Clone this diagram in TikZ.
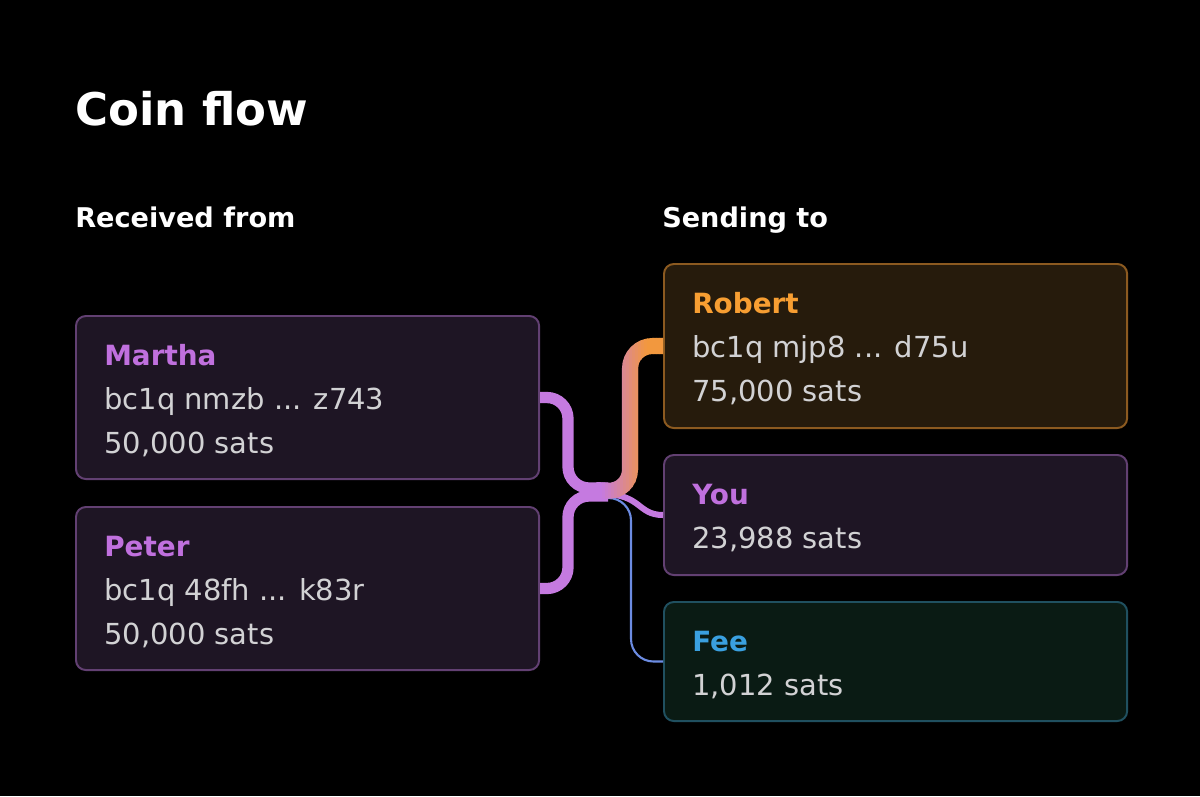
\documentclass[tikz,border=0pt]{standalone}
\usepackage{fontspec}
\setmainfont{DejaVu Sans}
\usetikzlibrary{positioning}

\definecolor{bgblack}{RGB}{0,0,0}
\definecolor{txtgray}{RGB}{210,210,212}
\definecolor{violetname}{RGB}{192,112,222}
\definecolor{violetflow}{RGB}{197,122,224}
\definecolor{violetfill}{RGB}{30,21,36}
\definecolor{violetline}{RGB}{98,64,114}
\definecolor{ambername}{RGB}{247,158,50}
\definecolor{amberflow}{RGB}{242,152,62}
\definecolor{amberfill}{RGB}{38,27,12}
\definecolor{amberline}{RGB}{140,90,32}
\definecolor{feename}{RGB}{58,160,224}
\definecolor{feeflow}{RGB}{108,140,226}
\definecolor{feefill}{RGB}{10,27,20}
\definecolor{feeline}{RGB}{32,80,96}

\begin{document}
\begin{tikzpicture}[x=0.025cm, y=-0.025cm,
    card/.style={draw, line width=1.4pt, rounded corners=7pt, inner sep=0pt,
      anchor=north west, minimum width=11.575cm},
    lbl/.style={anchor=base west, inner sep=0pt, text=txtgray,
      font=\fontsize{20.6}{24}\selectfont},
    who/.style={lbl, font=\fontsize{19.8}{24}\selectfont\bfseries},
    head/.style={lbl, text=white, font=\fontsize{19.3}{24}\selectfont\bfseries},
    flow/.style={draw=violetflow, rounded corners=15pt, line cap=butt}]

  % fond noir et cadre fixe
  \fill[bgblack] (0,0) rectangle (1200,796);
  \useasboundingbox (0,0) rectangle (1200,796);

  % titres
  \node[head, font=\fontsize{32}{40}\selectfont\bfseries] (title) at (75,125) {Coin flow};
  \node[head] (recv) at (75,227) {Received from};
  \node[head] (send) at (662,227) {Sending to};

  % cartes d'entree
  \node[card, draw=violetline, fill=violetfill, minimum height=4.075cm] (martha) at (75,315) {};
  \node[card, draw=violetline, fill=violetfill, minimum height=4.075cm] (peter) at (75,506) {};

  % cartes de sortie
  \node[card, draw=amberline, fill=amberfill, minimum height=4.1cm] (robert) at (663,263) {};
  \node[card, draw=violetline, fill=violetfill, minimum height=3cm] (you) at (663,454) {};
  \node[card, draw=feeline, fill=feefill, minimum height=2.975cm] (fee) at (663,601) {};

  % textes des cartes
  \node[who, text=violetname] (marthaName) at ([shift={(29,50)}]martha.north west) {Martha};
  \node[lbl] (marthaAddr) at ([shift={(0,44)}]marthaName.base west) {bc1q nmzb ... z743};
  \node[lbl] (marthaSats) at ([shift={(0,44)}]marthaAddr.base west) {50,000 sats};

  \node[who, text=violetname] (peterName) at ([shift={(29,50)}]peter.north west) {Peter};
  \node[lbl] (peterAddr) at ([shift={(0,44)}]peterName.base west) {bc1q 48fh ... k83r};
  \node[lbl] (peterSats) at ([shift={(0,44)}]peterAddr.base west) {50,000 sats};

  \node[who, text=ambername] (robertName) at ([shift={(29,50)}]robert.north west) {Robert};
  \node[lbl] (robertAddr) at ([shift={(0,44)}]robertName.base west) {bc1q mjp8 ... d75u};
  \node[lbl] (robertSats) at ([shift={(0,44)}]robertAddr.base west) {75,000 sats};

  \node[who, text=violetname] (youName) at ([shift={(29,50)}]you.north west) {You};
  \node[lbl] (youSats) at ([shift={(0,44)}]youName.base west) {23,988 sats};

  \node[who, text=feename] (feeName) at ([shift={(29,50)}]fee.north west) {Fee};
  \node[lbl] (feeSats) at ([shift={(0,44)}]feeName.base west) {1,012 sats};

  % points de jonction du flux
  \coordinate (hub) at (602,492);
  \coordinate (bend) at (568,492);
  \coordinate (rise) at (630,492);
  \coordinate (drop) at (631,498);

  % frais : filet fin
  \draw[flow, draw=feeflow, line width=1.5pt, rounded corners=16pt]
    ([shift={(4,6)}]hub) -- (drop) |- (fee.west);

  % entrees
  \draw[flow, line width=8pt] (martha.east) -| ([shift={(0,-4)}]bend) -- ([shift={(6,-4)}]hub);
  \draw[flow, line width=8pt] (peter.east) -| ([shift={(0,4)}]bend) -- ([shift={(6,4)}]hub);

  % sortie vers You
  \draw[flow, line width=4.3pt] ([shift={(0,2)}]hub)
    .. controls ([shift={(40,2)}]hub) and ([shift={(-26,0)}]you.west) .. (you.west);

  % sortie vers Robert, degrade violet -> orange par bandes
  \foreach \i in {0,...,23} {
    \pgfmathsetmacro{\xa}{596+\i*3}
    \pgfmathtruncatemacro{\p}{min(100,max(0,(\xa-600)*100/45))}
    \begin{scope}
      \clip (\xa,250) rectangle (\xa+3.3,520);
      \draw[flow, draw=amberflow!\p!violetflow, line width=11.4pt, rounded corners=16pt]
        ([shift={(-6,-2)}]hub) -- (rise) |- (robert.west);
    \end{scope}
  }

\end{tikzpicture}
\end{document}
